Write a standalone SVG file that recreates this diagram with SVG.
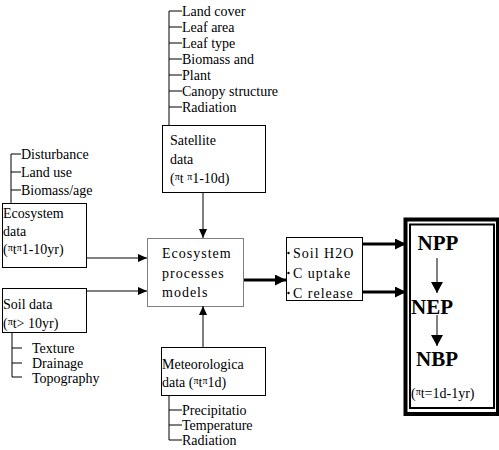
<svg xmlns="http://www.w3.org/2000/svg" width="499" height="450" viewBox="0 0 499 450" font-family="'Liberation Serif', 'Times New Roman', 'DejaVu Serif', serif">
<style>
text{font-family:'Liberation Serif','Times New Roman','DejaVu Serif',serif;font-size:14px;fill:#000}
.box{fill:#fff;stroke:#000;stroke-width:1}
.ln{stroke:#000;stroke-width:1;fill:none}
.thk{stroke:#000;stroke-width:3;fill:none}
.sp{letter-spacing:1px}
.big{font-size:21px;font-weight:bold}
.pi{font-size:10px}
</style>
<defs>
<marker id="ah" markerUnits="userSpaceOnUse" markerWidth="10" markerHeight="10" refX="9" refY="4" orient="auto"><path d="M0,0 L9,4 L0,8 Z" fill="#000"/></marker>
<marker id="ahb" markerUnits="userSpaceOnUse" markerWidth="12" markerHeight="12" refX="11" refY="5.5" orient="auto"><path d="M0,0 L11,5.5 L0,11 Z" fill="#000"/></marker>
<marker id="ahn" markerUnits="userSpaceOnUse" markerWidth="12" markerHeight="14" refX="11" refY="6" orient="auto"><path d="M0,0 L11,6 L0,12 Z" fill="#000"/></marker>
</defs>

<g id="satellite">
<path class="ln" d="M169,11 V125 M169,11 H182 M169,27 H182 M169,43 H182 M169,59 H182 M169,75 H182 M169,91 H182 M169,107 H182"/>
<text x="182" y="16">Land cover</text>
<text x="182" y="32">Leaf area</text>
<text x="182" y="48">Leaf type</text>
<text x="182" y="64">Biomass and</text>
<text x="182" y="80">Plant</text>
<text x="182" y="96">Canopy structure</text>
<text x="182" y="112">Radiation</text>
<rect class="box" x="162.5" y="125.5" width="103" height="67"/>
<text x="170" y="145">Satellite</text>
<text x="170" y="164">data</text>
<text x="170" y="183">(<tspan class="pi" dy="-3">π</tspan><tspan dy="3">t </tspan><tspan class="pi" dy="-3">π</tspan><tspan dy="3">1-10d)</tspan></text>
</g>

<g id="ecosystem-data">
<path class="ln" d="M11,154 V203 M11,154 H21 M11,172 H21 M11,190 H21"/>
<text x="21" y="159">Disturbance</text>
<text x="21" y="177">Land use</text>
<text x="21" y="195">Biomass/age</text>
<rect class="box" x="2.5" y="203.5" width="84" height="64"/>
<text x="3" y="218">Ecosystem</text>
<text x="3" y="236">data</text>
<text x="3" y="254">(<tspan class="pi" dy="-3">π</tspan><tspan dy="3">t</tspan><tspan class="pi" dy="-3">π</tspan><tspan dy="3">1-10yr)</tspan></text>
</g>

<g id="soil-data">
<rect class="box" x="2.5" y="288.5" width="84" height="44"/>
<text x="3" y="309">Soil data</text>
<text x="3" y="328">(<tspan class="pi" dy="-3">π</tspan><tspan dy="3">t&gt; 10yr)</tspan></text>
<path class="ln" d="M12,332 V377 M12,348 H22 M12,363 H22 M12,377 H22"/>
<text x="32" y="353">Texture</text>
<text x="32" y="368">Drainage</text>
<text x="32" y="383">Topography</text>
</g>

<g id="models">
<rect x="147.5" y="238.5" width="96" height="68" fill="#fff" stroke="#000" stroke-width="1" stroke-dasharray="1,1"/>
<text class="sp" x="162" y="258">Ecosystem</text>
<text class="sp" x="162" y="278">processes</text>
<text class="sp" x="162" y="297">models</text>
</g>

<g id="meteorological">
<rect class="box" x="161.5" y="347.5" width="104" height="48"/>
<text x="162" y="369">Meteorologica</text>
<text x="162" y="387">data (<tspan class="pi" dy="-3">π</tspan><tspan dy="3">t</tspan><tspan class="pi" dy="-3">π</tspan><tspan dy="3">1d)</tspan></text>
<path class="ln" d="M169,395 V440 M169,410 H182 M169,425 H182 M169,440 H182"/>
<text x="182" y="415">Precipitatio</text>
<text x="182" y="430">Temperature</text>
<text x="182" y="445">Radiation</text>
</g>

<g id="outputs">
<rect class="box" x="286.5" y="237.5" width="76" height="63"/>
<circle cx="288.5" cy="253" r="1.2" fill="#000"/>
<circle cx="288.5" cy="273" r="1.2" fill="#000"/>
<circle cx="288.5" cy="293" r="1.2" fill="#000"/>
<text class="sp" x="293" y="258">Soil H2O</text>
<text class="sp" x="293" y="278">C uptake</text>
<text class="sp" x="293" y="298">C release</text>
</g>

<g id="fluxes">
<rect x="405.5" y="219.5" width="92.5" height="194.5" fill="#fff" stroke="#000" stroke-width="4"/>
<rect x="410" y="224.5" width="84" height="183.5" fill="none" stroke="#000" stroke-width="2"/>
<text class="big" x="438" y="250" text-anchor="middle">NPP</text>
<text class="big" x="411" y="314">NEP</text>
<text class="big" x="437" y="366" text-anchor="middle">NBP</text>
<text x="411" y="398">(<tspan class="pi" dy="-3">π</tspan><tspan dy="3">t=1d-1yr)</tspan></text>
</g>

<g id="connectors">
<line class="ln" x1="203" y1="192" x2="203" y2="238" marker-end="url(#ah)"/>
<line class="ln" x1="86" y1="258" x2="147" y2="258" marker-end="url(#ah)"/>
<line class="ln" x1="86" y1="291" x2="147" y2="291" marker-end="url(#ah)"/>
<line class="ln" x1="203" y1="347" x2="203" y2="306" marker-end="url(#ah)"/>
<line class="thk" x1="244" y1="280" x2="286" y2="280" marker-end="url(#ahb)"/>
<line class="thk" x1="362" y1="244" x2="406" y2="244" marker-end="url(#ahb)"/>
<line class="thk" x1="362" y1="292" x2="406" y2="292" marker-end="url(#ahb)"/>
<line class="ln" x1="437" y1="258" x2="437" y2="293" marker-end="url(#ahn)"/>
<line class="ln" x1="437" y1="315" x2="437" y2="346" marker-end="url(#ahn)"/>
</g>
</svg>
